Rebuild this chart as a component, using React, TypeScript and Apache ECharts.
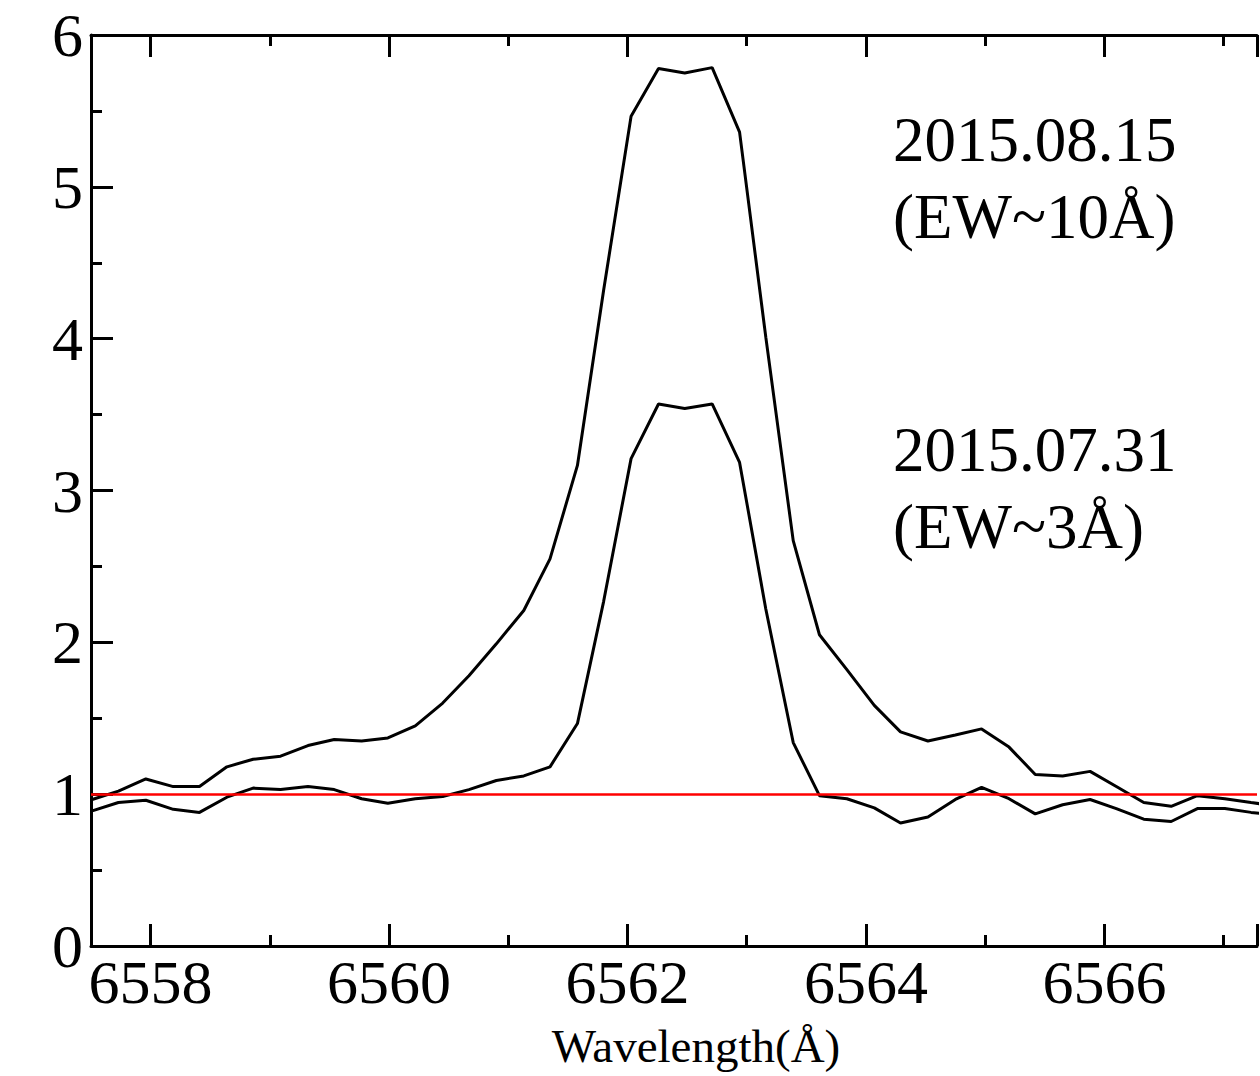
import { useEffect, useRef } from "react";
import * as echarts from "echarts";

const wavelength = [
  6557.51, 6557.73, 6557.96, 6558.19, 6558.41, 6558.64, 6558.86, 6559.09, 6559.32, 6559.54,
  6559.77, 6559.99, 6560.22, 6560.45, 6560.67, 6560.9, 6561.13, 6561.35, 6561.58, 6561.8,
  6562.03, 6562.26, 6562.48, 6562.71, 6562.94, 6563.16, 6563.39, 6563.61, 6563.84, 6564.07,
  6564.29, 6564.52, 6564.75, 6564.97, 6565.2, 6565.42, 6565.65, 6565.88, 6566.1, 6566.33,
  6566.56, 6566.78, 6567.01, 6567.23, 6567.46,
];

const flux20150815 = [
  0.965, 1.02, 1.1, 1.05, 1.05, 1.18, 1.23, 1.25, 1.32, 1.36,
  1.35, 1.37, 1.45, 1.6, 1.78, 1.99, 2.21, 2.55, 3.165, 4.32,
  5.465, 5.78, 5.75, 5.785, 5.36, 4.01, 2.67, 2.05, 1.82, 1.585,
  1.41, 1.35, 1.39, 1.43, 1.31, 1.13, 1.12, 1.15, 1.05, 0.945,
  0.92, 0.99, 0.97, 0.945, 0.92,
];

const flux20150731 = [
  0.89, 0.945, 0.96, 0.9, 0.88, 0.98, 1.04, 1.03, 1.05, 1.03,
  0.97, 0.94, 0.97, 0.985, 1.03, 1.09, 1.12, 1.18, 1.465, 2.27,
  3.21, 3.57, 3.54, 3.57, 3.185, 2.22, 1.34, 0.99, 0.97, 0.91,
  0.81, 0.85, 0.965, 1.045, 0.97, 0.87, 0.93, 0.965, 0.905, 0.835,
  0.82, 0.905, 0.905, 0.88, 0.86,
];

const xTickLabels = [6558, 6560, 6562, 6564, 6566];
const yTickLabels = [0, 1, 2, 3, 4, 5, 6];
const continuumLevel = 1;
const annotationLines = ["2015.08.15", "(EW~10Å)", "2015.07.31", "(EW~3Å)"];
const xAxisTitle = "Wavelength(Å)";

export default function App() {
  const ref = useRef<HTMLDivElement>(null);

  useEffect(() => {
    document.body.style.margin = "0";
    const chart = echarts.init(ref.current as HTMLDivElement, null, { renderer: "svg" });
    const font = '"Liberation Serif", "Times New Roman", serif';
    const black = "#000000";
    const axisLine = { show: true, onZero: false, lineStyle: { color: black, width: 3 } };
    const axisTick = { show: true, inside: true, length: 22, lineStyle: { color: black, width: 3 } };
    const minorTick = { show: true, splitNumber: 2, length: 11, lineStyle: { color: black, width: 3 } };

    const xMin = 6557.5;
    const xMax = 6567.28;

    const textY = [140, 217, 450, 527];

    chart.setOption({
      animation: false,
      backgroundColor: "#ffffff",
      grid: { left: 91, top: 35, bottom: 130, right: 0, containLabel: false },
      xAxis: [
        {
          type: "value",
          position: "bottom",
          min: xMin,
          max: xMax,
          splitNumber: 5,
          axisLine,
          axisTick,
          minorTick,
          splitLine: { show: false },
          axisLabel: {
            show: true,
            margin: 5,
            color: black,
            fontFamily: font,
            fontSize: 62,
            formatter: (v: number) => (xTickLabels.includes(v) ? String(v) : ""),
          },
        },
        {
          type: "value",
          position: "top",
          min: xMin,
          max: xMax,
          splitNumber: 5,
          axisLine,
          axisTick,
          minorTick,
          splitLine: { show: false },
          axisLabel: { show: false },
        },
      ],
      yAxis: [
        {
          type: "value",
          position: "left",
          min: 0,
          max: 6,
          interval: 1,
          axisLine,
          axisTick,
          minorTick,
          splitLine: { show: false },
          axisLabel: {
            show: true,
            margin: 8,
            color: black,
            fontFamily: font,
            fontSize: 62,
            formatter: (v: number) => (yTickLabels.includes(v) ? String(v) : ""),
          },
        },
      ],
      series: [
        {
          name: "2015.08.15",
          type: "line",
          xAxisIndex: 0,
          yAxisIndex: 0,
          data: wavelength.map((w, i) => [w, flux20150815[i]]),
          showSymbol: false,
          symbol: "none",
          lineStyle: { color: black, width: 3 },
          z: 2,
        },
        {
          name: "2015.07.31",
          type: "line",
          xAxisIndex: 0,
          yAxisIndex: 0,
          data: wavelength.map((w, i) => [w, flux20150731[i]]),
          showSymbol: false,
          symbol: "none",
          lineStyle: { color: black, width: 3 },
          z: 2,
          markLine: {
            silent: true,
            symbol: ["none", "none"],
            label: { show: false },
            lineStyle: { color: "#ff0000", width: 2.5, type: "solid" },
            data: [{ yAxis: continuumLevel }],
            z: 5,
          },
        },
      ],
      graphic: [
        ...annotationLines.map((t, i) => ({
          type: "text",
          x: 893,
          y: textY[i],
          style: {
            text: t,
            fill: black,
            fontFamily: font,
            fontSize: 63,
            align: "left",
            verticalAlign: "middle",
          },
        })),
        {
          type: "text",
          x: 696,
          y: 1046,
          style: {
            text: xAxisTitle,
            fill: black,
            fontFamily: font,
            fontSize: 47,
            align: "center",
            verticalAlign: "middle",
          },
        },
      ],
    });

    return () => chart.dispose();
  }, []);

  return <div ref={ref} style={{ width: 1260, height: 1076 }} />;
}
